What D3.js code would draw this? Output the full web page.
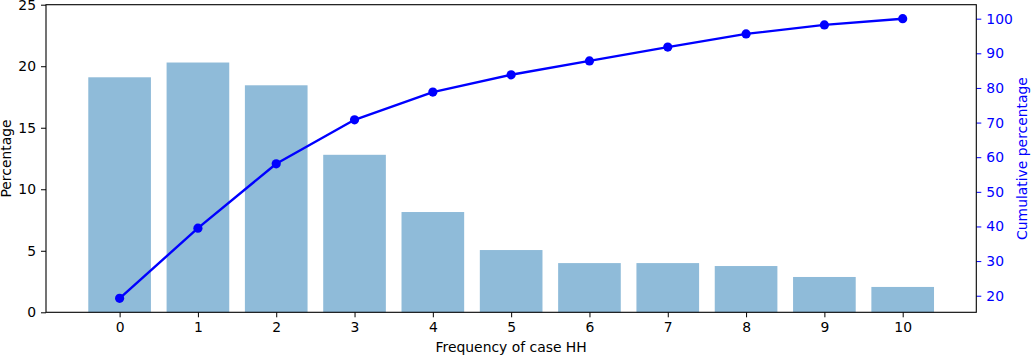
<!DOCTYPE html>
<html>
<head>
<meta charset="utf-8">
<script src="https://cdn.jsdelivr.net/npm/d3@7"></script>
<style>
  html, body { margin: 0; padding: 0; background: #fff; }
  svg { display: block; font-family: "DejaVu Sans", sans-serif; }
</style>
</head>
<body>
<svg id="chart" width="1031" height="356"></svg>
<script>
const categories = [0, 1, 2, 3, 4, 5, 6, 7, 8, 9, 10];
const percentage = [19.1, 20.3, 18.45, 12.8, 8.15, 5.06, 4.0, 4.0, 3.76, 2.87, 2.06];
const cumulative = [19.25, 39.5, 58.1, 70.8, 78.8, 83.8, 87.8, 91.8, 95.6, 98.2, 100.0];
const leftTicks = [0, 5, 10, 15, 20, 25];
const rightTicks = [20, 30, 40, 50, 60, 70, 80, 90, 100];
const xLabel = "Frequency of case HH";
const yLabel = "Percentage";
const y2Label = "Cumulative percentage";

const svg = d3.select("#chart");
const L = 46, R = 976.3, T = 4.7, B = 312.3;
const fontSize = 13.9;
const barW = 0.8;

const xMin = d3.min(categories) - barW / 2, xMax = d3.max(categories) + barW / 2;
const xPad = (xMax - xMin) * 0.05;
const x = d3.scaleLinear().domain([xMin - xPad, xMax + xPad]).range([L, R]);
const y = d3.scaleLinear().domain([0, 25]).range([B, T]);
const cMin = d3.min(cumulative), cMax = d3.max(cumulative);
const cPad = (cMax - cMin) * 0.05;
const y2 = d3.scaleLinear().domain([cMin - cPad, cMax + cPad]).range([B, T]);

// bars
svg.append("g").selectAll("rect").data(categories).join("rect")
  .attr("x", (d) => x(d - barW / 2))
  .attr("width", (d) => x(d + barW / 2) - x(d - barW / 2))
  .attr("y", (d, i) => y(percentage[i]))
  .attr("height", (d, i) => y(0) - y(percentage[i]))
  .attr("fill", "#1f77b4").attr("fill-opacity", 0.5);

// line
const line = d3.line().x((d, i) => x(categories[i])).y((d) => y2(d));
svg.append("path").datum(cumulative)
  .attr("d", line).attr("fill", "none")
  .attr("stroke", "#0000ff").attr("stroke-width", 2.4).attr("stroke-linejoin", "round");
svg.append("g").selectAll("circle").data(cumulative).join("circle")
  .attr("cx", (d, i) => x(categories[i])).attr("cy", (d) => y2(d))
  .attr("r", 4.6).attr("fill", "#0000ff");

// axes
function styleAxis(g, color) {
  g.select(".domain").remove();
  g.selectAll(".tick line").attr("stroke", color).attr("stroke-width", 1);
  g.selectAll(".tick text").attr("fill", color).attr("font-size", fontSize)
    .attr("font-family", "DejaVu Sans, sans-serif");
}
const gx = svg.append("g").attr("transform", `translate(0,${B})`)
  .call(d3.axisBottom(x).tickValues(categories).tickFormat(d3.format("d")).tickSize(5).tickPadding(5));
styleAxis(gx, "#000");

const gy = svg.append("g").attr("transform", `translate(${L},0)`)
  .call(d3.axisLeft(y).tickValues(leftTicks).tickFormat(d3.format("d")).tickSize(5).tickPadding(5));
styleAxis(gy, "#000");

const gy2 = svg.append("g").attr("transform", `translate(${R},0)`)
  .call(d3.axisRight(y2).tickValues(rightTicks).tickFormat(d3.format("d")).tickSize(5).tickPadding(5));
styleAxis(gy2, "#0000ff");

// frame
svg.append("rect").attr("x", L).attr("y", T).attr("width", R - L).attr("height", B - T)
  .attr("fill", "none").attr("stroke", "#000").attr("stroke-width", 1.1);

// labels
svg.append("text").attr("x", (L + R) / 2).attr("y", 352).attr("text-anchor", "middle")
  .attr("font-size", fontSize).attr("fill", "#000").text(xLabel);
svg.append("text").attr("transform", `translate(10.5,${(T + B) / 2}) rotate(-90)`)
  .attr("text-anchor", "middle").attr("font-size", fontSize).attr("fill", "#000").text(yLabel);
svg.append("text").attr("transform", `translate(1027,${(T + B) / 2}) rotate(-90)`)
  .attr("text-anchor", "middle").attr("font-size", fontSize).attr("fill", "#0000ff").text(y2Label);
</script>
</body>
</html>
